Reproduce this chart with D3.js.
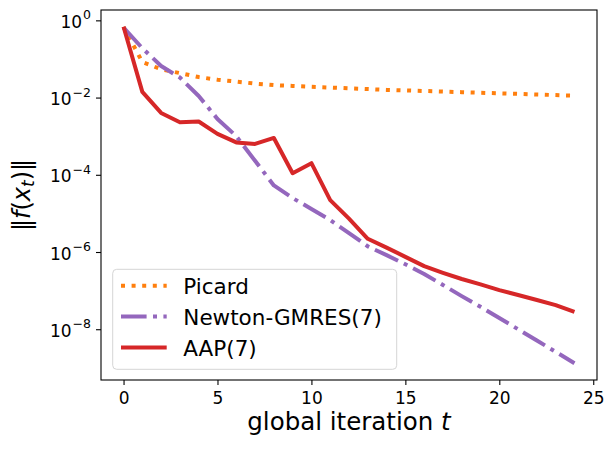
<!DOCTYPE html>
<html>
<head>
<meta charset="utf-8">
<script src="https://cdn.jsdelivr.net/npm/d3@7"></script>
<style>
  body { margin: 0; background: #fff; }
  text { font-family: "DejaVu Sans", sans-serif; fill: #000; }
</style>
</head>
<body>
<div id="viz"></div>
<script>
// iterations 0..24
var iterations = d3.range(0, 25);

// residual norms
var picard = [0.68, 0.083, 0.054, 0.043, 0.034, 0.029, 0.026, 0.023, 0.021, 0.020,
  0.019, 0.0182, 0.0174, 0.0166, 0.0158, 0.0153, 0.0148, 0.0143, 0.0138, 0.0133,
  0.0129, 0.0125, 0.0120, 0.0116, 0.0112];
var newton = [0.65, 0.19, 0.066, 0.033, 0.011, 0.0028, 0.00100, 0.00023, 5.3e-5, 2.5e-5,
  1.3e-5, 6.7e-6, 3.1e-6, 1.4e-6, 8.3e-7, 4.8e-7, 2.7e-7, 1.4e-7, 7.2e-8, 3.8e-8,
  1.95e-8, 1.0e-8, 5.1e-9, 2.6e-9, 1.32e-9];
var aap = [0.68, 0.014, 0.0040, 0.0023, 0.0024, 0.00115, 0.00069, 0.00063, 0.00090, 0.00011,
  0.00020, 2.2e-5, 7.3e-6, 2.2e-6, 1.3e-6, 7.5e-7, 4.3e-7, 2.9e-7, 2.0e-7, 1.45e-7,
  1.03e-7, 7.7e-8, 5.7e-8, 4.2e-8, 2.8e-8];

var seriesNames = ['Picard', 'Newton-GMRES(7)', 'AAP(7)'];
var seriesColors = ['#ff7f0e', '#9467bd', '#d62728'];
var seriesDash = ['4,6.6', '25.6,6.4,4,6.4', null];

var xTicks = [0, 5, 10, 15, 20, 25];
var yTickExps = [0, -2, -4, -6, -8];

var W = 615, H = 452;
var m = {left: 101, right: 597, top: 10, bottom: 380};

var svg = d3.select('#viz').append('svg')
  .attr('width', W).attr('height', H);

// matplotlib-like 5% margins, log space for y
var x = d3.scaleLinear().domain([-1.2, 25.2]).range([m.left, m.right]);
var all = picard.concat(newton, aap);
var lo = Math.log10(d3.min(all)), hi = Math.log10(d3.max(all));
var pad = (hi - lo) * 0.05;
var y = d3.scaleLog()
  .domain([Math.pow(10, lo - pad), Math.pow(10, hi + pad)])
  .range([m.bottom, m.top]);

var series = [picard, newton, aap];

var line = d3.line()
  .x(function(d, i) { return x(iterations[i]); })
  .y(function(d) { return y(d); });

svg.append('defs').append('clipPath').attr('id', 'clip')
  .append('rect')
  .attr('x', m.left).attr('y', m.top)
  .attr('width', m.right - m.left).attr('height', m.bottom - m.top);

var plot = svg.append('g').attr('clip-path', 'url(#clip)');
series.forEach(function(s, k) {
  plot.append('path')
    .datum(s)
    .attr('d', line)
    .attr('fill', 'none')
    .attr('stroke', seriesColors[k])
    .attr('stroke-width', 4)
    .attr('stroke-linejoin', 'round')
    .attr('stroke-dasharray', seriesDash[k]);
});

// frame
svg.append('rect')
  .attr('x', m.left).attr('y', m.top)
  .attr('width', m.right - m.left).attr('height', m.bottom - m.top)
  .attr('fill', 'none').attr('stroke', '#000').attr('stroke-width', 1.1);

// x axis
var xAxis = d3.axisBottom(x).tickValues(xTicks).tickSize(5).tickPadding(7);
var gx = svg.append('g').attr('transform', 'translate(0,' + m.bottom + ')').call(xAxis);
gx.select('.domain').remove();
gx.selectAll('line').attr('stroke', '#000').attr('stroke-width', 1.1);
gx.selectAll('text').attr('font-size', 17).attr('font-family', 'DejaVu Sans');

// y axis (ticks only, labels done by hand for superscripts)
var yAxis = d3.axisLeft(y).tickValues(yTickExps.map(function(e) { return Math.pow(10, e); }))
  .tickSize(5).tickFormat('');
var gy = svg.append('g').attr('transform', 'translate(' + m.left + ',0)').call(yAxis);
gy.select('.domain').remove();
gy.selectAll('line').attr('stroke', '#000').attr('stroke-width', 1.1);

yTickExps.forEach(function(e) {
  var t = svg.append('text')
    .attr('x', 91)
    .attr('y', y(Math.pow(10, e)) + 7.5)
    .attr('text-anchor', 'end');
  t.append('tspan').attr('font-size', 17).text('10');
  t.append('tspan').attr('font-size', 12.5).attr('dy', -8.5).attr('dx', 1)
    .text(e === 0 ? '0' : '\u2212' + (-e));
});

// axis labels
var xl = svg.append('text')
  .attr('x', (m.left + m.right) / 2).attr('y', 430)
  .attr('text-anchor', 'middle').attr('font-size', 24.5);
xl.append('tspan').text('global iteration ');
xl.append('tspan').attr('font-style', 'italic').text('t');

var yl = svg.append('text')
  .attr('transform', 'translate(30,' + ((m.top + m.bottom) / 2) + ') rotate(-90)')
  .attr('text-anchor', 'middle').attr('font-size', 24);
yl.append('tspan').text('\u2016');
yl.append('tspan').attr('font-style', 'italic').text('f');
yl.append('tspan').text('(');
yl.append('tspan').attr('font-style', 'italic').text('x');
yl.append('tspan').attr('font-style', 'italic').attr('font-size', 17).attr('dy', 4).text('t');
yl.append('tspan').attr('dy', -4).text(')');
yl.append('tspan').text('\u2016');

// legend
var lg = svg.append('g');
lg.append('rect')
  .attr('x', 112.7).attr('y', 269.3).attr('width', 284).attr('height', 100)
  .attr('rx', 4).attr('fill', '#fff').attr('fill-opacity', 0.8)
  .attr('stroke', '#d5d5d5').attr('stroke-width', 1);
var rowY = [285.7, 316.6, 347.4];
seriesNames.forEach(function(n, k) {
  lg.append('line')
    .attr('x1', 121).attr('x2', 166.7)
    .attr('y1', rowY[k]).attr('y2', rowY[k])
    .attr('stroke', seriesColors[k]).attr('stroke-width', 4)
    .attr('stroke-dasharray', seriesDash[k]);
  lg.append('text')
    .attr('x', 183.3).attr('y', rowY[k] + 8.5)
    .attr('font-size', 21.5).text(n);
});
</script>
</body>
</html>
